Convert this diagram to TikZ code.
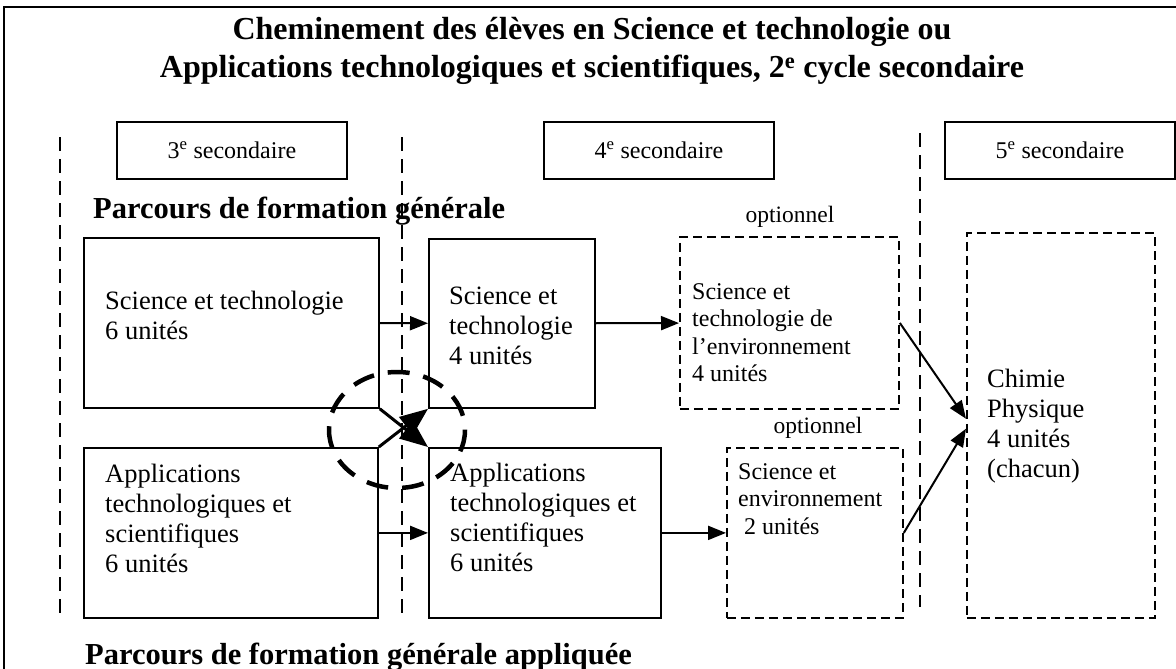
\documentclass[tikz,border=0pt]{standalone}
\usepackage{fontspec}
\setmainfont{Liberation Serif}
\usetikzlibrary{arrows.meta}

\tikzset{
  box/.style={draw, line width=1.8pt, anchor=north west, inner sep=0pt},
  optbox/.style={box, dash pattern=on 9pt off 5pt},
  yearbox/.style={draw, line width=1.8pt, anchor=north west, inner sep=0pt,
    minimum width=230pt, minimum height=57pt, font=\fontsize{24}{28}\selectfont},
  txt/.style={anchor=north west, inner sep=0pt, align=left,
    font=\fontsize{26.5}{30}\selectfont},
  smalltxt/.style={txt, font=\fontsize{24}{27.5}\selectfont},
  optlabel/.style={inner sep=0pt, font=\fontsize{23.5}{27}\selectfont},
  parcours/.style={anchor=west, inner sep=0pt, font=\fontsize{30.5}{34}\selectfont\bfseries},
  sepline/.style={line width=1.8pt, dash pattern=on 14pt off 8pt},
  arr/.style={-{Triangle[length=18pt,width=14pt]}, line width=2pt},
  crossarr/.style={-{Triangle[length=28pt,width=22pt]}, line width=3pt},
}

\begin{document}
\begin{tikzpicture}[x=1pt, y=-1pt]
  \useasboundingbox (0,0) rectangle (1176,669);
  % frame
  \draw[line width=2pt] (4,7) rectangle (1200,700);

  % title
  \node (title) [anchor=north, inner sep=0pt, align=center,
    font=\fontsize{32}{38}\selectfont\bfseries] at (592,17)
    {Cheminement des élèves en Science et technologie ou\\
     Applications technologiques et scientifiques, 2\textsuperscript{e} cycle secondaire};

  % years
  \node (y3) [yearbox] at (116,121) {3\textsuperscript{e} secondaire};
  \node (y4) [yearbox] at (543,121) {4\textsuperscript{e} secondaire};
  \node (y5) [yearbox] at (944,121) {5\textsuperscript{e} secondaire};

  % separators
  \draw[sepline] (60,137) -- (60,613);
  \draw[sepline] (402,137) -- (402,617);
  \draw[sepline] (920,133) -- (920,607);

  \node (pfg) [parcours] at (93,211) {Parcours de formation générale};
  \node (pfga) [parcours] at (85,657) {Parcours de formation générale appliquée};

  % boxes
  \node (st3) [box, minimum width=295pt, minimum height=170pt] at (83,237) {};
  \node (st4) [box, minimum width=166pt, minimum height=169pt] at (428,238) {};
  \node (ste) [optbox, minimum width=219pt, minimum height=172pt] at (679,236) {};
  \node (at3) [box, minimum width=294pt, minimum height=170pt] at (83,447) {};
  \node (at4) [box, minimum width=232pt, minimum height=170pt] at (428,447) {};
  \node (se) [optbox, minimum width=176pt, minimum height=170pt] at (726,447) {};
  \node (chim) [optbox, minimum width=188pt, minimum height=385pt] at (966,232) {};

  % box texts
  \node (st3t) [txt] at (105,291) {Science et technologie\\6 unités};
  \node (st4t) [txt] at (449,287) {Science et\\technologie\\4 unités};
  \node (stet) [smalltxt] at (692,283) {Science et\\technologie de\\l’environnement\\4 unités};
  \node (at3t) [txt] at (105,464) {Applications\\technologiques et\\scientifiques\\6 unités};
  \node (at4t) [txt] at (450,463) {Applications\\technologiques et\\scientifiques\\6 unités};
  \node (set) [smalltxt] at (738,463) {Science et\\environnement\\\hspace{0.25em}2 unités};
  \node (chimt) [txt] at (987,369) {Chimie\\Physique\\4 unités\\(chacun)};

  \node (opt1) [optlabel] at (790,217) {optionnel};
  \node (opt2) [optlabel] at (818,428) {optionnel};

  % arrows
  \draw[arr] (st3) -- (st4);
  \draw[arr] (st4) -- (ste);
  \draw[arr] (at3) -- (at4);
  \draw[arr] (at4) -- (se);
  \draw[arr] (ste.east) -- (chim.176);
  \draw[arr] (se.east) -- (chim.182);
  \draw[crossarr] (at3.north east) -- (st4.south west);
  \draw[crossarr] (st3.south east) -- (at4.north west);

  % circle
  \draw[line width=4.5pt, dash pattern=on 22pt off 14pt] (397,430) ellipse [x radius=68, y radius=58];
\end{tikzpicture}
\end{document}
